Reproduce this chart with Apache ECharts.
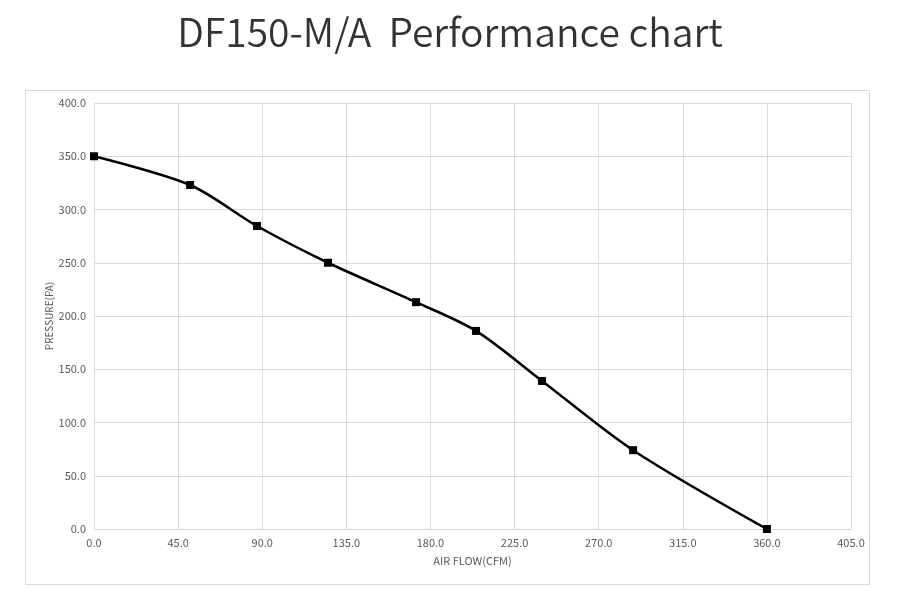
<!DOCTYPE html>
<html><head><meta charset="utf-8">
<script src="https://cdn.jsdelivr.net/npm/echarts@6/dist/echarts.min.js"></script>
<style>html,body{margin:0;padding:0;background:#fff}#wrap{position:relative;width:900px;height:600px}
#frame{position:absolute;left:25px;top:90px;width:845px;height:495px;border:1px solid #d9d9d9;box-sizing:border-box}
#c{position:absolute;left:0;top:0;width:900px;height:600px}</style>
</head><body><div id="wrap"><div id="frame"></div><div id="c"></div></div>
<script>
const titleText = 'DF150-M/A  Performance chart';
const xName = 'AIR FLOW(CFM)';
const yName = 'PRESSURE(PA)';
const airFlow = [0, 51.4, 87.2, 125.2, 172.3, 204.4, 239.7, 288.4, 360];
const pressure = [350, 323, 284.5, 250, 213, 186, 139, 74, 0];

const chart = echarts.init(document.getElementById('c'));
const font = '"Noto Sans CJK SC", "Noto Sans", sans-serif';
chart.setOption({
  animation: false,
  title: { text: titleText, left: 'center', top: 8,
    textStyle: { fontFamily: font, fontWeight: 350, fontSize: 39, color: '#333' } },
  grid: { left: 94, right: 49, top: 103, bottom: 71 },
  xAxis: { type: 'value', min: 0, max: 405, interval: 45,
    name: xName, nameLocation: 'middle', nameGap: 26, nameMoveOverlap: false,
    nameTextStyle: { fontFamily: font, fontSize: 11, color: '#595959' },
    axisLine: { show: true, lineStyle: { color: '#d9d9d9' } }, axisTick: { show: false },
    axisLabel: { formatter: v => v.toFixed(1), fontFamily: font, fontSize: 11, color: '#595959', margin: 8 },
    splitLine: { show: true, lineStyle: { color: '#d9d9d9' } } },
  yAxis: { type: 'value', min: 0, max: 400, interval: 50,
    name: yName, nameLocation: 'middle', nameGap: 40, nameRotate: 90, nameMoveOverlap: false,
    nameTextStyle: { fontFamily: font, fontSize: 10, color: '#595959' },
    axisLine: { show: true, lineStyle: { color: '#d9d9d9' } }, axisTick: { show: false },
    axisLabel: { formatter: v => v.toFixed(1), fontFamily: font, fontSize: 11, color: '#595959', margin: 8 },
    splitLine: { show: true, lineStyle: { color: '#d9d9d9' } } },
  series: [{ type: 'line', data: airFlow.map((x, i) => [x, pressure[i]]), smooth: 0.3,
    symbol: 'rect', symbolSize: 8, itemStyle: { color: '#000' },
    lineStyle: { color: '#000', width: 2.5 } }]
});
</script></body></html>
